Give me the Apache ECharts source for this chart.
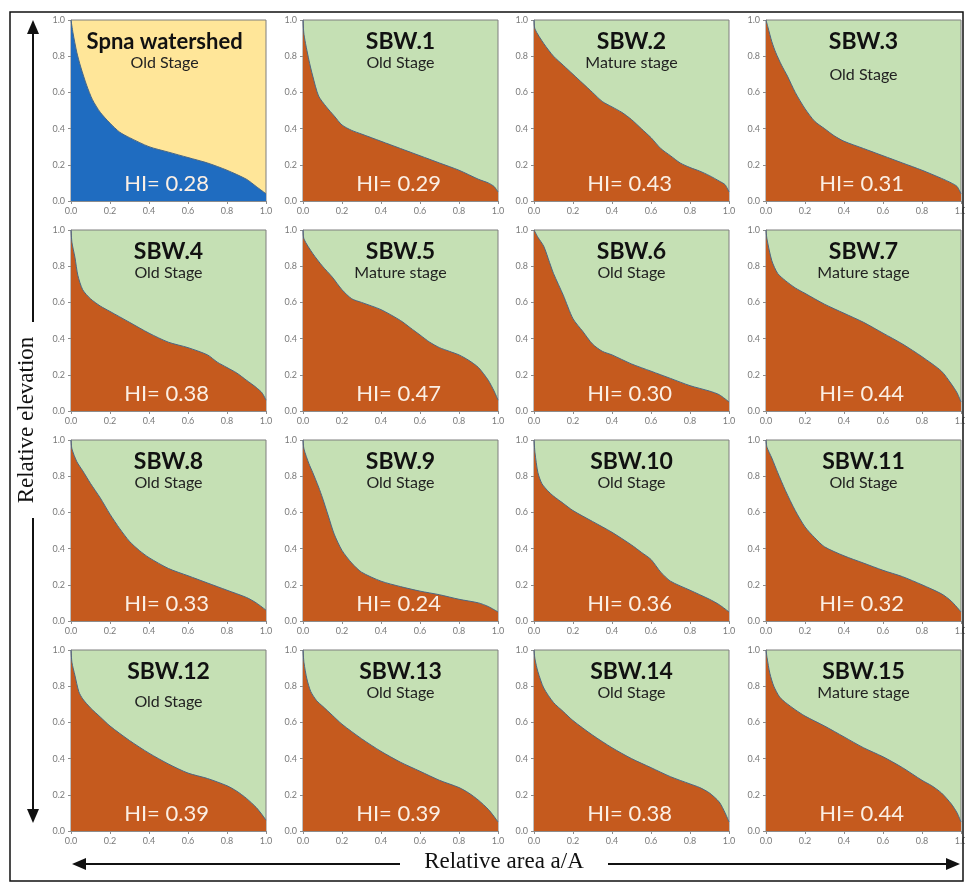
<!DOCTYPE html>
<html><head><meta charset="utf-8">
<script src="https://cdn.jsdelivr.net/npm/echarts@6/dist/echarts.min.js"></script>
<style>html,body{margin:0;padding:0;background:#fff}#c{width:965px;height:883px}</style>
</head><body><div id="c"></div>
<script>
// ---- data ----
const names = ['Spna watershed','SBW.1','SBW.2','SBW.3','SBW.4','SBW.5','SBW.6','SBW.7','SBW.8','SBW.9','SBW.10','SBW.11','SBW.12','SBW.13','SBW.14','SBW.15'];
const stages = ['Old Stage','Old Stage','Mature stage','Old Stage','Old Stage','Mature stage','Old Stage','Mature stage','Old Stage','Old Stage','Old Stage','Old Stage','Old Stage','Old Stage','Old Stage','Mature stage'];
const hiValues = ['0.28','0.29','0.43','0.31','0.38','0.47','0.30','0.44','0.33','0.24','0.36','0.32','0.39','0.39','0.38','0.44'];
const tickValues = [0, 0.2, 0.4, 0.6, 0.8, 1.0];

const spna = [[0,1],[0.01,0.93],[0.03,0.82],[0.05,0.74],[0.08,0.64],[0.11,0.56],[0.15,0.49],[0.2,0.43],[0.25,0.38],[0.3,0.35],[0.4,0.30],[0.5,0.27],[0.6,0.24],[0.7,0.21],[0.8,0.17],[0.9,0.12],[0.95,0.08],[1,0.04]];
const sbw1 = [[0,1],[0.005,0.92],[0.03,0.78],[0.05,0.69],[0.08,0.58],[0.12,0.52],[0.16,0.47],[0.2,0.42],[0.25,0.39],[0.3,0.37],[0.4,0.33],[0.5,0.29],[0.6,0.25],[0.7,0.21],[0.8,0.17],[0.9,0.12],[0.95,0.10],[0.98,0.08],[1,0.05]];
const sbw2 = [[0,1],[0.005,0.95],[0.05,0.87],[0.1,0.80],[0.15,0.75],[0.2,0.70],[0.25,0.65],[0.3,0.60],[0.35,0.55],[0.4,0.52],[0.45,0.49],[0.5,0.45],[0.55,0.40],[0.6,0.35],[0.65,0.29],[0.7,0.25],[0.75,0.21],[0.8,0.185],[0.85,0.165],[0.9,0.14],[0.95,0.11],[0.98,0.09],[1,0.05]];
const sbw3 = [[0,1],[0.01,0.96],[0.03,0.88],[0.05,0.82],[0.08,0.75],[0.11,0.69],[0.15,0.60],[0.2,0.51],[0.25,0.44],[0.3,0.40],[0.35,0.36],[0.4,0.33],[0.5,0.29],[0.6,0.25],[0.7,0.21],[0.8,0.17],[0.9,0.125],[0.95,0.10],[0.98,0.08],[1,0.04]];
const sbw4 = [[0,1],[0.005,0.93],[0.02,0.85],[0.035,0.75],[0.06,0.67],[0.1,0.62],[0.15,0.58],[0.2,0.55],[0.3,0.49],[0.4,0.43],[0.5,0.38],[0.6,0.35],[0.7,0.31],[0.75,0.27],[0.8,0.24],[0.85,0.21],[0.9,0.17],[0.95,0.13],[0.98,0.10],[1,0.06]];
const sbw5 = [[0,1],[0.005,0.95],[0.05,0.87],[0.1,0.80],[0.15,0.74],[0.2,0.67],[0.25,0.62],[0.3,0.60],[0.4,0.56],[0.5,0.50],[0.55,0.46],[0.6,0.42],[0.65,0.38],[0.7,0.35],[0.75,0.33],[0.8,0.31],[0.85,0.28],[0.9,0.24],[0.95,0.17],[0.98,0.11],[1,0.06]];
const sbw6 = [[0,1],[0.02,0.96],[0.05,0.91],[0.08,0.82],[0.1,0.76],[0.15,0.64],[0.2,0.51],[0.25,0.44],[0.3,0.37],[0.35,0.33],[0.4,0.31],[0.5,0.26],[0.6,0.22],[0.7,0.18],[0.8,0.14],[0.9,0.11],[0.95,0.09],[1,0.05]];
const sbw7 = [[0,1],[0.005,0.95],[0.03,0.83],[0.06,0.76],[0.1,0.72],[0.15,0.68],[0.2,0.65],[0.3,0.59],[0.4,0.54],[0.5,0.49],[0.6,0.43],[0.7,0.37],[0.8,0.30],[0.9,0.22],[0.95,0.15],[0.98,0.10],[1,0.05]];
const sbw8 = [[0,1],[0.005,0.95],[0.03,0.88],[0.06,0.83],[0.1,0.76],[0.15,0.68],[0.2,0.59],[0.25,0.51],[0.3,0.44],[0.35,0.39],[0.4,0.35],[0.5,0.29],[0.6,0.25],[0.7,0.21],[0.8,0.17],[0.9,0.13],[0.95,0.10],[1,0.06]];
const sbw9 = [[0,1],[0.005,0.95],[0.03,0.87],[0.05,0.82],[0.08,0.74],[0.1,0.68],[0.13,0.58],[0.16,0.48],[0.2,0.39],[0.25,0.32],[0.3,0.27],[0.4,0.22],[0.5,0.19],[0.6,0.165],[0.7,0.145],[0.8,0.12],[0.9,0.10],[0.95,0.08],[1,0.05]];
const sbw10 = [[0,1],[0.005,0.93],[0.02,0.82],[0.04,0.76],[0.07,0.72],[0.1,0.69],[0.15,0.65],[0.2,0.61],[0.3,0.55],[0.4,0.49],[0.5,0.42],[0.55,0.38],[0.6,0.34],[0.65,0.27],[0.7,0.22],[0.8,0.17],[0.9,0.12],[0.95,0.09],[1,0.05]];
const sbw11 = [[0,1],[0.005,0.96],[0.03,0.9],[0.06,0.82],[0.1,0.72],[0.15,0.61],[0.2,0.52],[0.25,0.46],[0.3,0.41],[0.4,0.36],[0.5,0.32],[0.6,0.28],[0.7,0.245],[0.8,0.2],[0.9,0.15],[0.95,0.11],[1,0.05]];
const sbw12 = [[0,1],[0.005,0.93],[0.02,0.86],[0.04,0.77],[0.06,0.73],[0.1,0.68],[0.15,0.63],[0.2,0.58],[0.3,0.50],[0.4,0.43],[0.5,0.37],[0.6,0.32],[0.7,0.29],[0.8,0.25],[0.85,0.22],[0.9,0.18],[0.95,0.13],[0.98,0.09],[1,0.06]];
const sbw13 = [[0,1],[0.005,0.93],[0.02,0.84],[0.04,0.77],[0.07,0.72],[0.1,0.69],[0.15,0.64],[0.2,0.59],[0.3,0.51],[0.4,0.44],[0.5,0.38],[0.6,0.33],[0.7,0.28],[0.8,0.24],[0.85,0.21],[0.9,0.17],[0.95,0.12],[0.98,0.08],[1,0.05]];
const sbw14 = [[0,1],[0.005,0.95],[0.02,0.88],[0.05,0.79],[0.1,0.71],[0.15,0.66],[0.2,0.61],[0.3,0.53],[0.4,0.46],[0.5,0.40],[0.6,0.35],[0.7,0.30],[0.8,0.26],[0.85,0.24],[0.9,0.21],[0.95,0.16],[0.98,0.10],[1,0.05]];
const sbw15 = [[0,1],[0.005,0.96],[0.02,0.87],[0.04,0.80],[0.07,0.74],[0.1,0.71],[0.15,0.67],[0.2,0.635],[0.3,0.58],[0.4,0.52],[0.5,0.46],[0.6,0.41],[0.7,0.35],[0.8,0.28],[0.85,0.25],[0.9,0.21],[0.95,0.15],[0.98,0.10],[1,0.05]];
const curves = [spna,sbw1,sbw2,sbw3,sbw4,sbw5,sbw6,sbw7,sbw8,sbw9,sbw10,sbw11,sbw12,sbw13,sbw14,sbw15];

// ---- layout ----
const colLeft = [71, 303, 534, 766];
const rowTop = [20, 230, 440, 650];
const W = 195, H = 181;
const subOffset = {3: 55, 12: 52};

const chart = echarts.init(document.getElementById('c'), null, {renderer: 'canvas'});
const grids = [], xAxes = [], yAxes = [], series = [], graphics = [];
const sansFont = 'Lato, "Open Sans", sans-serif';

curves.forEach((data, i) => {
  const r = Math.floor(i / 4), c = i % 4;
  const left = colLeft[c], top = rowTop[r];
  const first = i === 0;
  grids.push({left, top, width: W, height: H, show: true,
    backgroundColor: first ? '#FFE699' : '#C5E0B4', borderColor: '#7f7f7f', borderWidth: 1,
    containLabel: false, outerBoundsMode: 'none'});
  const axisCommon = {type: 'value', min: 0, max: 1, interval: 0.2, gridIndex: i,
    axisLine: {show: true, onZero: false, lineStyle: {color: '#8c8c8c', width: 1}},
    axisTick: {show: true, length: 3, lineStyle: {color: '#8c8c8c'}},
    splitLine: {show: false},
    axisLabel: {fontSize: 9, color: '#7a7a7a', fontFamily: sansFont, margin: 6, formatter: v => v.toFixed(1)}};
  xAxes.push(Object.assign({}, axisCommon));
  yAxes.push(Object.assign({}, axisCommon));
  series.push({type: 'line', xAxisIndex: i, yAxisIndex: i, data, showSymbol: false,
    smooth: 0.25,
    lineStyle: {color: '#4a6784', width: 1},
    areaStyle: {color: first ? '#1F6CC0' : '#C55A1E', opacity: 1, origin: 'start'}});
  const cx = left + W * (first ? 0.48 : 0.5);
  graphics.push({type: 'text', x: cx, y: top + 22, style: {text: names[i], align: 'center', verticalAlign: 'middle',
    font: 'bold ' + (first ? 22 : 23) + 'px ' + sansFont, fill: '#111'}, z: 100});
  graphics.push({type: 'text', x: cx, y: top + (subOffset[i] || 43), style: {text: stages[i], align: 'center', verticalAlign: 'middle',
    font: '16px ' + sansFont, fill: '#222'}, z: 100});
  graphics.push({type: 'text', x: left + W * 0.49, y: top + H - 17, style: {text: 'HI= ' + hiValues[i], align: 'center', verticalAlign: 'middle',
    font: '22px ' + sansFont, fill: '#FBEFE4'}, z: 100});
});

// frame, arrows and axis titles
const serif = '"Liberation Serif", "DejaVu Serif", serif';
graphics.push({type: 'rect', shape: {x: 10, y: 12, width: 953, height: 869}, style: {fill: 'none', stroke: '#111', lineWidth: 1.5}, z: 90});
graphics.push({type: 'line', shape: {x1: 33, y1: 30, x2: 33, y2: 322}, style: {stroke: '#111', lineWidth: 2}});
graphics.push({type: 'line', shape: {x1: 33, y1: 518, x2: 33, y2: 812}, style: {stroke: '#111', lineWidth: 2}});
graphics.push({type: 'polygon', shape: {points: [[33, 20], [27, 34], [39, 34]]}, style: {fill: '#111'}});
graphics.push({type: 'polygon', shape: {points: [[33, 823], [27, 809], [39, 809]]}, style: {fill: '#111'}});
graphics.push({type: 'text', x: 27, y: 420, rotation: Math.PI / 2, style: {text: 'Relative elevation', align: 'center', verticalAlign: 'middle',
  font: '23px ' + serif, fill: '#111'}});
graphics.push({type: 'line', shape: {x1: 82, y1: 864, x2: 400, y2: 864}, style: {stroke: '#111', lineWidth: 2}});
graphics.push({type: 'line', shape: {x1: 608, y1: 864, x2: 950, y2: 864}, style: {stroke: '#111', lineWidth: 2}});
graphics.push({type: 'polygon', shape: {points: [[72, 864], [86, 858], [86, 870]]}, style: {fill: '#111'}});
graphics.push({type: 'polygon', shape: {points: [[960, 864], [946, 858], [946, 870]]}, style: {fill: '#111'}});
graphics.push({type: 'text', x: 504, y: 862, style: {text: 'Relative area a/A', align: 'center', verticalAlign: 'middle',
  font: '23px ' + serif, fill: '#111'}});

chart.setOption({
  animation: false,
  backgroundColor: '#fff',
  grid: grids, xAxis: xAxes, yAxis: yAxes, series,
  graphic: graphics
});
</script></body></html>
